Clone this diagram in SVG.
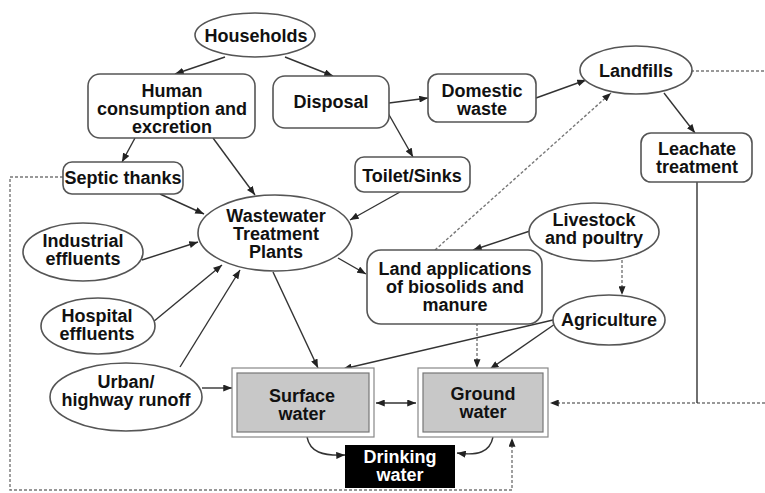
<svg xmlns="http://www.w3.org/2000/svg" width="765" height="493" viewBox="0 0 765 493">
<style>
text{font-family:"Liberation Sans",Arial,sans-serif;font-weight:bold;font-size:18px;text-anchor:middle;fill:#111}
.n{fill:#fff;stroke:#555;stroke-width:1.6}
.c{fill:none;stroke:#333;stroke-width:1.4}
.d{fill:none;stroke:#777;stroke-width:1.4;stroke-dasharray:3 2}
.w{fill:#fff;stroke:#888;stroke-width:1.2}
.wi{fill:#c8c8c8;stroke:#777;stroke-width:1.2}
</style>
<defs>
<marker id="a" viewBox="0 0 10 8" refX="10" refY="4" markerWidth="9" markerHeight="7" markerUnits="userSpaceOnUse" orient="auto-start-reverse"><path d="M0,0L10,4L0,8z" fill="#222"/></marker>
</defs>
<rect width="765" height="493" fill="#fff"/>
<g id="connectors">
<path class="c" d="M225,57L175,74" marker-end="url(#a)"/>
<path class="c" d="M285,57L333,76" marker-end="url(#a)"/>
<path class="c" d="M135,138L122,162" marker-end="url(#a)"/>
<path class="c" d="M213,138L255,195" marker-end="url(#a)"/>
<path class="c" d="M389,103L428,98" marker-end="url(#a)"/>
<path class="c" d="M388,113L413,157" marker-end="url(#a)"/>
<path class="c" d="M536,98L586,80" marker-end="url(#a)"/>
<path class="c" d="M664,93L695,133" marker-end="url(#a)"/>
<path class="c" d="M400,192L350,220" marker-end="url(#a)"/>
<path class="c" d="M160,194L204,214" marker-end="url(#a)"/>
<path class="c" d="M142,260L198,242" marker-end="url(#a)"/>
<path class="c" d="M153,322L222,265" marker-end="url(#a)"/>
<path class="c" d="M180,367L240,270" marker-end="url(#a)"/>
<path class="c" d="M273,272L318,368" marker-end="url(#a)"/>
<path class="c" d="M338,258L366,274" marker-end="url(#a)"/>
<path class="d" d="M435,250L611,93" marker-end="url(#a)"/>
<path class="c" d="M530,231L473,250" marker-end="url(#a)"/>
<path class="d" d="M622,260L622,295" marker-end="url(#a)"/>
<path class="c" d="M553,320L343,369" marker-end="url(#a)"/>
<path class="c" d="M555,324L490,369" marker-end="url(#a)"/>
<path class="d" d="M477,323L477,368" marker-end="url(#a)"/>
<path class="c" d="M202,388L232,388" marker-end="url(#a)"/>
<path class="c" d="M376,403L416,403" marker-start="url(#a)" marker-end="url(#a)"/>
<path class="d" d="M765,403L550,403" marker-end="url(#a)"/>
<path class="c" d="M697,182L697,403" stroke="#777"/>
<path class="d" d="M691,71L765,71"/>
<path class="d" d="M63,177L10,177L10,490L512,490L512,438" marker-end="url(#a)"/>
<path class="c" d="M307,437C310,452 322,456 345,455" marker-end="url(#a)"/>
<path class="c" d="M493,437C490,452 478,456 457,453" marker-end="url(#a)"/>
</g>
<g id="households"><ellipse class="n" cx="255" cy="35" rx="60" ry="22"/><text x="256" y="42">Households</text></g>
<g id="human"><rect class="n" x="88" y="74" width="167" height="64" rx="12"/><text x="172" y="97">Human</text><text x="172" y="115">consumption and</text><text x="172" y="133">excretion</text></g>
<g id="disposal"><rect class="n" x="273" y="76" width="116" height="52" rx="12"/><text x="331" y="108">Disposal</text></g>
<g id="domestic"><rect class="n" x="428" y="74" width="108" height="48" rx="10"/><text x="482" y="97">Domestic</text><text x="482" y="115">waste</text></g>
<g id="landfills"><ellipse class="n" cx="636" cy="70" rx="56" ry="24"/><text x="636" y="77">Landfills</text></g>
<g id="leachate"><rect class="n" x="641" y="133" width="111" height="49" rx="10"/><text x="697" y="155">Leachate</text><text x="697" y="173">treatment</text></g>
<g id="septic"><rect class="n" x="63" y="162" width="120" height="32" rx="9"/><text x="123" y="184">Septic thanks</text></g>
<g id="toilet"><rect class="n" x="355" y="157" width="115" height="35" rx="9"/><text x="412" y="182">Toilet/Sinks</text></g>
<g id="wwtp"><ellipse class="n" cx="275" cy="233" rx="77" ry="38"/><text x="276" y="222">Wastewater</text><text x="276" y="240">Treatment</text><text x="276" y="258">Plants</text></g>
<g id="industrial"><ellipse class="n" cx="83" cy="252" rx="60" ry="29"/><text x="83" y="247">Industrial</text><text x="83" y="265">effluents</text></g>
<g id="hospital"><ellipse class="n" cx="98" cy="326" rx="57" ry="28"/><text x="97" y="322">Hospital</text><text x="97" y="340">effluents</text></g>
<g id="urban"><ellipse class="n" cx="126" cy="397" rx="76" ry="34"/><text x="126" y="388">Urban/</text><text x="126" y="406">highway runoff</text></g>
<g id="landapp"><rect class="n" x="367" y="250" width="175" height="74" rx="14"/><text x="455" y="275">Land applications</text><text x="455" y="293">of biosolids and</text><text x="455" y="311">manure</text></g>
<g id="livestock"><ellipse class="n" cx="594" cy="232" rx="65" ry="29"/><text x="594" y="226">Livestock</text><text x="594" y="244">and poultry</text></g>
<g id="agriculture"><ellipse class="n" cx="609" cy="320" rx="56" ry="25"/><text x="609" y="326">Agriculture</text></g>
<g id="surface"><rect class="w" x="232" y="368" width="142" height="69"/><rect class="wi" x="237" y="373" width="132" height="59"/><text x="302" y="402">Surface</text><text x="302" y="420">water</text></g>
<g id="ground"><rect class="w" x="418" y="368" width="130" height="69"/><rect class="wi" x="423" y="373" width="120" height="59"/><text x="483" y="400">Ground</text><text x="483" y="418">water</text></g>
<g id="drinking"><rect x="345" y="445" width="110" height="43" fill="#000"/><text x="400" y="463" style="fill:#fff">Drinking</text><text x="400" y="481" style="fill:#fff">water</text></g>
</svg>
